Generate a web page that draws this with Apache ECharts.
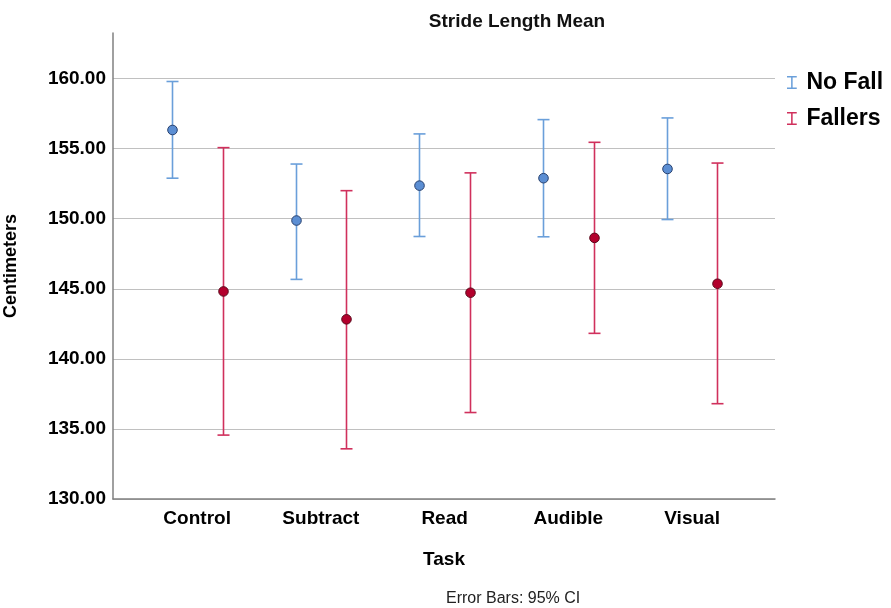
<!DOCTYPE html>
<html>
<head>
<meta charset="utf-8">
<script src="https://cdn.jsdelivr.net/npm/echarts@6/dist/echarts.min.js"></script>
<style>html,body{margin:0;padding:0;background:#fff;}#c{width:891px;height:608px;}</style>
</head>
<body>
<div id="c"></div>
<script>
const categories = ['Control', 'Subtract', 'Read', 'Audible', 'Visual'];
const noFallMean  = [156.33, 149.87, 152.36, 152.89, 153.55];
const noFallLow   = [152.89, 145.67, 148.73, 148.71, 149.94];
const noFallHigh  = [159.79, 153.90, 156.05, 157.07, 157.19];
const fallersMean = [144.81, 142.82, 144.72, 148.63, 145.36];
const fallersLow  = [134.56, 133.58, 136.17, 141.82, 136.80];
const fallersHigh = [155.07, 152.00, 153.27, 155.45, 153.97];
const yTicks = [130, 135, 140, 145, 150, 155, 160];

const FONT = '"Liberation Sans", Arial, sans-serif';
const chart = echarts.init(document.getElementById('c'));

function makeRender(side, lineColor, fill, stroke) {
  return function (params, api) {
    const i = api.value(0);
    const band = api.size([1, 0])[0];
    const dx = side * band * 0.205;
    const pm = api.coord([i, api.value(1)]);
    const pl = api.coord([i, api.value(2)]);
    const ph = api.coord([i, api.value(3)]);
    const x = Math.round(pm[0] + dx) + 0.5;
    const cap = 6;
    const ls = { stroke: lineColor, lineWidth: 1.6 };
    return {
      type: 'group',
      children: [
        { type: 'line', shape: { x1: x, y1: ph[1], x2: x, y2: pl[1] }, style: ls },
        { type: 'line', shape: { x1: x - cap, y1: ph[1], x2: x + cap, y2: ph[1] }, style: ls },
        { type: 'line', shape: { x1: x - cap, y1: pl[1], x2: x + cap, y2: pl[1] }, style: ls },
        { type: 'circle', shape: { cx: x, cy: pm[1], r: 4.8 }, style: { fill: fill, stroke: stroke, lineWidth: 1 } }
      ]
    };
  };
}

function buildData(m, lo, hi) {
  return categories.map((c, i) => [i, m[i], lo[i], hi[i]]);
}

const ICON = 'path://M0,0H9V1.4H5.2V10.6H9V12H0V10.6H3.8V1.4H0Z';

chart.setOption({
  animation: false,
  title: {
    text: 'Stride Length Mean',
    left: 512,
    textAlign: 'center',
    top: 7,
    textStyle: { fontFamily: FONT, fontSize: 19, fontWeight: 'bold', color: '#111' }
  },
  legend: {
    orient: 'vertical',
    left: 782,
    top: 66,
    itemWidth: 19,
    itemHeight: 13,
    itemGap: 13,
    textStyle: { fontFamily: FONT, fontSize: 23, fontWeight: 'bold', color: '#000' },
    data: [
      { name: 'No Fall', icon: ICON },
      { name: 'Fallers', icon: ICON }
    ]
  },
  grid: { left: 113, right: 116, top: 33, bottom: 109, containLabel: false, outerBoundsMode: 'none' },
  xAxis: {
    type: 'value',
    min: -0.68,
    max: 4.67,
    name: 'Task',
    nameLocation: 'middle',
    nameGap: 51,
    nameTextStyle: { fontFamily: FONT, fontSize: 19, fontWeight: 'bold', color: '#000' },
    axisLine: { show: true, onZero: false, lineStyle: { color: '#808080', width: 1.5 } },
    axisTick: { show: false },
    splitLine: { show: false },
    axisLabel: {
      customValues: categories.map((c, i) => i),
      formatter: v => categories[Math.round(v)] || '',
      margin: 10,
      fontFamily: FONT, fontSize: 19, fontWeight: 'bold', color: '#000'
    }
  },
  yAxis: {
    type: 'value',
    min: yTicks[0],
    max: 163.25,
    interval: 5,
    name: 'Centimeters',
    nameLocation: 'middle',
    nameRotate: 90,
    nameGap: 93,
    nameTextStyle: { fontFamily: FONT, fontSize: 18, fontWeight: 'bold', color: '#000' },
    axisLine: { show: true, onZero: false, lineStyle: { color: '#808080', width: 1.5 } },
    axisTick: { show: false },
    axisLabel: {
      showMaxLabel: false,
      margin: 7,
      formatter: v => (yTicks.indexOf(v) >= 0 ? v.toFixed(2) : ''),
      fontFamily: FONT, fontSize: 19, fontWeight: 'bold', color: '#000'
    },
    splitLine: { show: true, showMaxLine: false, lineStyle: { color: '#c0c0c0', width: 1.2 } }
  },
  graphic: [{
    type: 'text',
    left: 446,
    top: 591,
    style: { text: 'Error Bars: 95% CI', fontFamily: FONT, fontSize: 16, fill: '#222' }
  }],
  series: [
    {
      name: 'No Fall',
      type: 'custom',
      itemStyle: { color: '#6a9fda' },
      encode: { x: 0, y: [1, 2, 3] },
      renderItem: makeRender(-1, '#6a9fda', '#5b8ed3', '#27406e'),
      data: buildData(noFallMean, noFallLow, noFallHigh)
    },
    {
      name: 'Fallers',
      type: 'custom',
      itemStyle: { color: '#d0305c' },
      encode: { x: 0, y: [1, 2, 3] },
      renderItem: makeRender(1, '#d0305c', '#b3002c', '#5a0a1c'),
      data: buildData(fallersMean, fallersLow, fallersHigh)
    }
  ]
});
</script>
</body>
</html>
